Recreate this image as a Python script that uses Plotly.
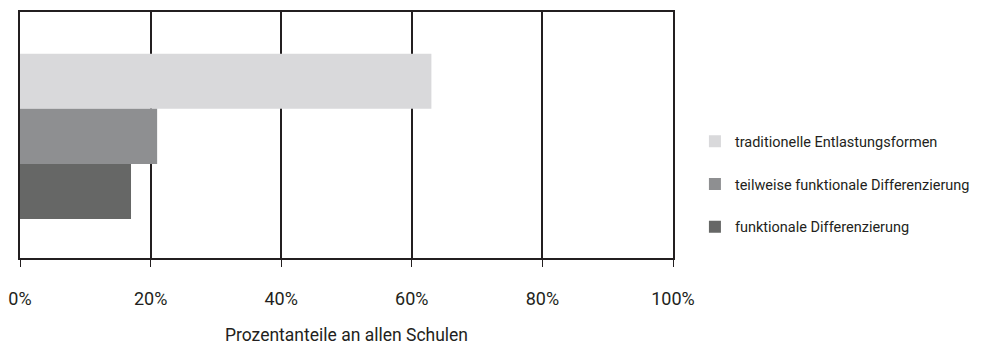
import plotly.graph_objects as go

categories = ["traditionelle Entlastungsformen",
              "teilweise funktionale Differenzierung",
              "funktionale Differenzierung"]
values = [63, 21, 17]
positions = [1, 0, -1]
colors = ["#d9d9db", "#8e8f91", "#666766"]

tick_vals = [0, 20, 40, 60, 80, 100]
tick_text = ["0%", "20%", "40%", "60%", "80%", "100%"]

FONT = "Roboto, Arial, sans-serif"

fig = go.Figure()
for name, val, pos, col in zip(categories, values, positions, colors):
    fig.add_trace(go.Bar(
        x=[val], y=[pos], name=name, orientation="h",
        width=1, marker=dict(color=col, line=dict(width=0)),
        legendgroup=name, hoverinfo="x+name"
    ))

fig.update_layout(
    width=986, height=345,
    margin=dict(l=20, r=312, t=12, b=87),
    plot_bgcolor="white", paper_bgcolor="white",
    font=dict(family=FONT, size=15, color="#231f20"),
    barmode="overlay",
    showlegend=True,
    legend=dict(x=1.032, xanchor="left", y=0.30, yanchor="middle",
                font=dict(size=14.5), tracegroupgap=21,
                traceorder="grouped", bgcolor="rgba(0,0,0,0)"),
)
fig.update_xaxes(
    range=[0, 100], tickvals=tick_vals, ticktext=tick_text,
    tickfont=dict(size=18), automargin=False,
    showgrid=True, gridcolor="#231f20", gridwidth=1.5,
    showline=True, linecolor="#231f20", linewidth=1.5, mirror=True,
    ticks="outside", ticklen=7, tickwidth=1.2, tickcolor="#231f20",
    ticklabelstandoff=17, zeroline=False,
    title=dict(text="Prozentanteile an allen Schulen", standoff=22,
               font=dict(size=17.5)),
)
fig.update_yaxes(
    range=[-2.21, 2.26], showticklabels=False, showgrid=False,
    automargin=False,
    zeroline=False, showline=True, linecolor="#231f20", linewidth=1.5,
    mirror=True, ticks="",
)

fig.write_html("out.html", config={"displayModeBar": False},
               post_script="document.body.style.margin='0';")
